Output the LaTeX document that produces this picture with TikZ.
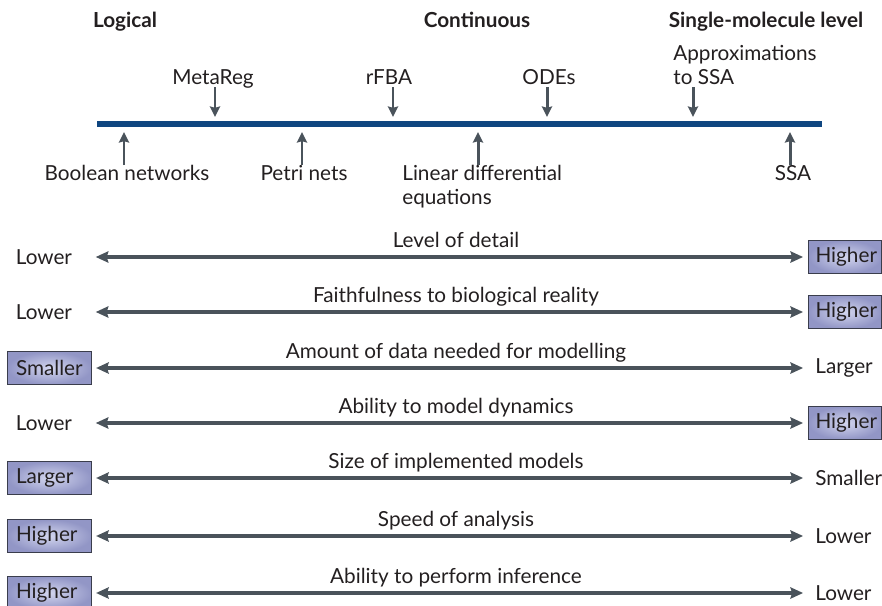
\documentclass[tikz,border=0pt]{standalone}
\usepackage{fontspec}
\setmainfont{Lato}
\usetikzlibrary{arrows.meta}
\definecolor{inkc}{HTML}{231F20}
\definecolor{arrc}{HTML}{4A535B}
\definecolor{barc}{HTML}{0F4680}
\definecolor{boxedge}{HTML}{3A3D4C}
\definecolor{boxin}{HTML}{D2D5EE}
\definecolor{boxout}{HTML}{9296C6}

\begin{document}
\begin{tikzpicture}[x=0.02cm, y=-0.02cm,
  every node/.style={text=inkc, font=\fontsize{11.8}{13.6}\selectfont},
  head/.style={anchor=base, font=\fontsize{11.8}{13.6}\selectfont\bfseries},
  toplab/.style={anchor=south, inner sep=0pt, text depth=1.2pt},
  botlab/.style={anchor=north, inner sep=0pt},
  tick/.style={draw=arrc, line width=1.7pt, -{Stealth[length=6pt, width=5.8pt, inset=0.8pt]}},
  scalearr/.style={draw=arrc, line width=1.8pt,
    {Stealth[length=7.2pt, width=6.4pt, inset=1pt]}-{Stealth[length=7.2pt, width=6.4pt, inset=1pt]},
    shorten <=2.3pt, shorten >=2.8pt},
  rowlab/.style={anchor=base},
  lend/.style={anchor=west, text width=1.34cm, inner xsep=0.17cm, minimum height=0.66cm, inner ysep=0pt},
  rend/.style={anchor=west, text width=1.18cm, inner xsep=0.14cm, minimum height=0.66cm, inner ysep=0pt},
  hl/.style={draw=boxedge, line width=0.6pt, inner color=boxin, outer color=boxout}]

  \useasboundingbox (0,0) rectangle (882,605);
  \clip (0,0) rectangle (882,605);

  \node[head] (logical) at (125,28) {Logical};
  \node[head] (continuous) at (477,28) {Continuous};
  \node[head] (single) at (766,28) {Single-molecule level};

  \coordinate (bl) at (97,124);
  \coordinate (br) at (822,124);
  \draw[barc, line width=3.4pt] (bl) -- (br);

  \coordinate (pmeta) at (215,117);
  \coordinate (prfba) at (393,117);
  \coordinate (podes) at (547,117);
  \coordinate (papprox) at (693,117);
  \node[toplab] (metareg) at (213,87) {MetaReg};
  \node[toplab] (rfba) at (389,87) {rFBA};
  \node[toplab] (odes) at (549,87) {ODEs};
  \node[toplab, anchor=south west, align=left] (approx) at (673,87) {Approximations\\to SSA};
  \draw[tick] (metareg.south -| pmeta) -- (pmeta);
  \draw[tick] (rfba.south -| prfba) -- (prfba);
  \draw[tick] (odes.south -| podes) -- (podes);
  \draw[tick] (approx.south -| papprox) -- (papprox);

  \coordinate (pbool) at (124,132);
  \coordinate (ppetri) at (302,132);
  \coordinate (plinear) at (478,132);
  \coordinate (pssa) at (790,132);
  \node[botlab] (boolean) at (127,165) {Boolean networks};
  \node[botlab] (petri) at (304,165) {Petri nets};
  \node[botlab, anchor=north west, align=left] (linear) at (402,165) {Linear differential\\equations};
  \node[botlab] (ssa) at (793,165) {SSA};
  \draw[tick] (boolean.north -| pbool) -- (pbool);
  \draw[tick] (petri.north -| ppetri) -- (ppetri);
  \draw[tick] (linear.north -| plinear) -- (plinear);
  \draw[tick] (ssa.north -| pssa) -- (pssa);

  \node[lend] (lo1) at (7,257) {Lower};
  \node[rend, hl] (hi1) at (808,257) {Higher};
  \node[rowlab] (detail) at (456,247) {Level of detail};
  \draw[scalearr] (lo1) -- (hi1);

  \node[lend] (lo2) at (7,312) {Lower};
  \node[rend, hl] (hi2) at (808,312) {Higher};
  \node[rowlab] (faith) at (456,302) {Faithfulness to biological reality};
  \draw[scalearr] (lo2) -- (hi2);

  \node[lend, hl] (lo3) at (7,368) {Smaller};
  \node[rend] (hi3) at (808,368) {Larger};
  \node[rowlab] (amount) at (456,358) {Amount of data needed for modelling};
  \draw[scalearr] (lo3) -- (hi3);

  \node[lend] (lo4) at (7,423) {Lower};
  \node[rend, hl] (hi4) at (808,423) {Higher};
  \node[rowlab] (dynamics) at (456,413) {Ability to model dynamics};
  \draw[scalearr] (lo4) -- (hi4);

  \node[lend, hl] (lo5) at (7,478) {Larger};
  \node[rend] (hi5) at (808,478) {Smaller};
  \node[rowlab] (size) at (456,468) {Size of implemented models};
  \draw[scalearr] (lo5) -- (hi5);

  \node[lend, hl] (lo6) at (7,536) {Higher};
  \node[rend] (hi6) at (808,536) {Lower};
  \node[rowlab] (speed) at (456,526) {Speed of analysis};
  \draw[scalearr] (lo6) -- (hi6);

  \node[lend, hl] (lo7) at (7,593) {Higher};
  \node[rend] (hi7) at (808,593) {Lower};
  \node[rowlab] (inference) at (456,583) {Ability to perform inference};
  \draw[scalearr] (lo7) -- (hi7);
\end{tikzpicture}
\end{document}
